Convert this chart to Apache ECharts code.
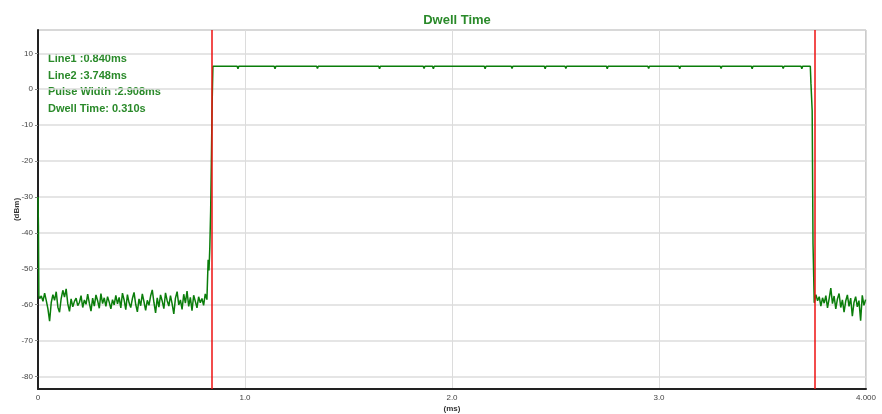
<!DOCTYPE html>
<html>
<head>
<meta charset="utf-8">
<script src="https://cdn.jsdelivr.net/npm/echarts@6/dist/echarts.min.js"></script>
<style>
  html, body { margin: 0; padding: 0; background: #fff; }
  #chart { width: 882px; height: 414px; }
</style>
</head>
<body>
<div id="chart"></div>
<script>
// marker positions (ms)
const markerLines = [0.840, 3.748];

const infoLines = [
  'Line1 :0.840ms',
  'Line2 :3.748ms',
  'Pulse Width :2.908ms',
  'Dwell Time: 0.310s'
];

// noise floor before the pulse
const preTimeMs = [0, 0.002, 0.004,
  0.008,0.016,0.024,0.032,0.040,0.048,0.056,0.064,0.072,0.080,
  0.088,0.096,0.104,0.112,0.120,0.128,0.136,0.144,0.152,0.160,
  0.168,0.176,0.184,0.192,0.200,0.208,0.216,0.224,0.232,0.240,
  0.248,0.256,0.264,0.272,0.280,0.288,0.296,0.304,0.312,0.320,
  0.328,0.336,0.344,0.352,0.360,0.368,0.376,0.384,0.392,0.400,
  0.408,0.416,0.424,0.432,0.440,0.448,0.456,0.464,0.472,0.480,
  0.488,0.496,0.504,0.512,0.520,0.528,0.536,0.544,0.552,0.560,
  0.568,0.576,0.584,0.592,0.600,0.608,0.616,0.624,0.632,0.640,
  0.648,0.656,0.664,0.672,0.680,0.688,0.696,0.704,0.712,0.720,
  0.728,0.736,0.744,0.752,0.760,0.768,0.776,0.784,0.792,0.800,
  0.808,0.816];
const preLevelDbm = [-30, -38, -57.5,
  -58.3,-57.6,-59.1,-56.8,-58.9,-61.2,-64.6,-59.4,-57.2,-58.8,
  -56.4,-60.7,-62.1,-58.3,-56.0,-57.9,-55.6,-59.8,-61.9,-58.4,
  -60.6,-59.1,-58.2,-60.3,-59.4,-57.5,-60.8,-58.7,-59.9,-57.1,
  -59.6,-61.8,-58.2,-60.4,-57.3,-58.9,-61.0,-56.9,-59.7,-58.1,
  -60.5,-57.8,-59.3,-61.2,-58.6,-60.1,-57.4,-59.8,-58.0,-60.9,
  -56.8,-58.7,-61.4,-57.2,-59.5,-60.8,-58.3,-56.6,-59.9,-62.0,
  -58.4,-60.3,-57.0,-59.2,-61.6,-58.8,-60.2,-57.6,-55.9,-59.4,
  -62.3,-58.1,-60.7,-57.3,-59.0,-61.1,-56.7,-58.9,-60.4,-57.5,
  -59.8,-62.6,-58.2,-56.4,-60.1,-58.7,-61.3,-57.1,-59.6,-56.2,
  -60.5,-58.0,-61.7,-57.4,-59.1,-60.9,-57.8,-59.5,-58.3,-60.2,
  -57.0,-58.6];

// rising edge, flat top with small dips, falling edge
const pulseTimeMs = [0.822,0.826,0.830,0.834,0.838,0.841,0.845,
  0.962,0.966,0.970, 1.141,1.145,1.149, 1.346,1.350,1.354,
  1.646,1.650,1.654, 1.861,1.865,1.869, 1.906,1.910,1.914,
  2.156,2.160,2.164, 2.286,2.290,2.294, 2.446,2.450,2.454,
  2.546,2.550,2.554, 2.746,2.750,2.754, 2.946,2.950,2.954,
  3.096,3.100,3.104, 3.296,3.300,3.304, 3.446,3.450,3.454,
  3.596,3.600,3.604, 3.686,3.690,3.694,
  3.731,3.734,3.740,3.744,3.750];
const pulseLevelDbm = [-47.5,-50.5,-44,-34,-18,-4.5,6.4,
  6.4,5.7,6.4, 6.4,5.7,6.4, 6.4,5.8,6.4,
  6.4,5.7,6.4, 6.4,5.8,6.4, 6.4,5.7,6.4,
  6.4,5.7,6.4, 6.4,5.8,6.4, 6.4,5.7,6.4,
  6.4,5.8,6.4, 6.4,5.7,6.4, 6.4,5.8,6.4,
  6.4,5.7,6.4, 6.4,5.8,6.4, 6.4,5.7,6.4,
  6.4,5.8,6.4, 6.4,5.7,6.4,
  6.4,1.7,-6,-43,-59.5];

// noise floor after the pulse
const postTimeMs = [3.758,3.766,3.774,3.782,3.790,3.798,3.806,3.814,3.822,3.830,
  3.838,3.846,3.854,3.862,3.870,3.878,3.886,3.894,3.902,3.910,
  3.918,3.926,3.934,3.942,3.950,3.958,3.966,3.974,3.982,3.990,3.998];
const postLevelDbm = [-57.2,-58.9,-57.8,-60.4,-58.1,-59.6,-57.5,-60.9,-58.3,-55.4,
  -59.7,-57.6,-61.2,-58.4,-56.9,-60.8,-58.7,-62.1,-59.0,-57.3,
  -60.5,-58.2,-63.2,-59.4,-57.8,-60.6,-58.9,-64.5,-57.4,-60.2,-58.6];

const timeMs = preTimeMs.concat(pulseTimeMs, postTimeMs);
const levelDbm = preLevelDbm.concat(pulseLevelDbm, postLevelDbm);
const trace = timeMs.map((t, i) => [t, levelDbm[i]]);

const chart = echarts.init(document.getElementById('chart'));
const font = 'Liberation Sans, Arial, sans-serif';

chart.setOption({
  animation: false,
  title: {
    text: 'Dwell Time',
    left: 452,
    textAlign: 'center',
    top: 9,
    textStyle: { color: '#2a8a2a', fontSize: 13, fontWeight: 'bold', fontFamily: font }
  },
  grid: {
    left: 38, right: 16, top: 30, bottom: 25,
    outerBoundsMode: 'none',
    containLabel: false,
    show: true, borderColor: '#999', borderWidth: 1
  },
  xAxis: {
    type: 'value',
    min: 0, max: 4, interval: 1,
    name: '(ms)',
    nameLocation: 'middle',
    nameGap: 16,
    nameMoveOverlap: false,
    nameTextStyle: { fontSize: 8, fontWeight: 'bold', color: '#333', fontFamily: font },
    axisLine: { onZero: false, lineStyle: { color: '#222', width: 2 } },
    axisTick: { show: false },
    axisLabel: {
      fontSize: 8, color: '#444', fontFamily: font, margin: 5,
      formatter: v => v === 0 ? '0' : (v === 4 ? '4.000' : v.toFixed(1))
    },
    splitLine: { show: true, lineStyle: { color: '#dcdcdc', width: 1 } }
  },
  yAxis: {
    type: 'value',
    min: -83.5, max: 16.5, splitNumber: 10,
    name: '(dBm)',
    nameLocation: 'middle',
    nameGap: 17,
    nameMoveOverlap: false,
    nameTextStyle: { fontSize: 8, fontWeight: 'bold', color: '#333', fontFamily: font },
    axisLine: { show: true, onZero: false, lineStyle: { color: '#222', width: 2 } },
    axisTick: { show: true, length: 3, lineStyle: { color: '#888' } },
    axisLabel: {
      fontSize: 8, color: '#444', fontFamily: font, margin: 5,
      showMinLabel: false, showMaxLabel: false
    },
    splitLine: { show: true, lineStyle: { color: '#dcdcdc', width: 1.5 } }
  },
  graphic: [{
    type: 'text',
    left: 48,
    top: 51,
    style: {
      text: infoLines.join('\n'),
      fill: '#2a8a2a',
      font: 'bold 11px ' + font,
      lineHeight: 16.5
    }
  }],
  series: [
    {
      type: 'line',
      data: [],
      z: 1,
      markLine: {
        silent: true,
        symbol: 'none',
        label: { show: false },
        lineStyle: { color: '#ee1111', width: 1.5, type: 'solid' },
        data: markerLines.map(x => ({ xAxis: x }))
      }
    },
    {
      type: 'line',
      data: trace,
      z: 2,
      showSymbol: false,
      lineStyle: { color: '#0a7d0a', width: 1.5 },
      itemStyle: { color: '#0a7d0a' }
    }
  ]
});
</script>
</body>
</html>
